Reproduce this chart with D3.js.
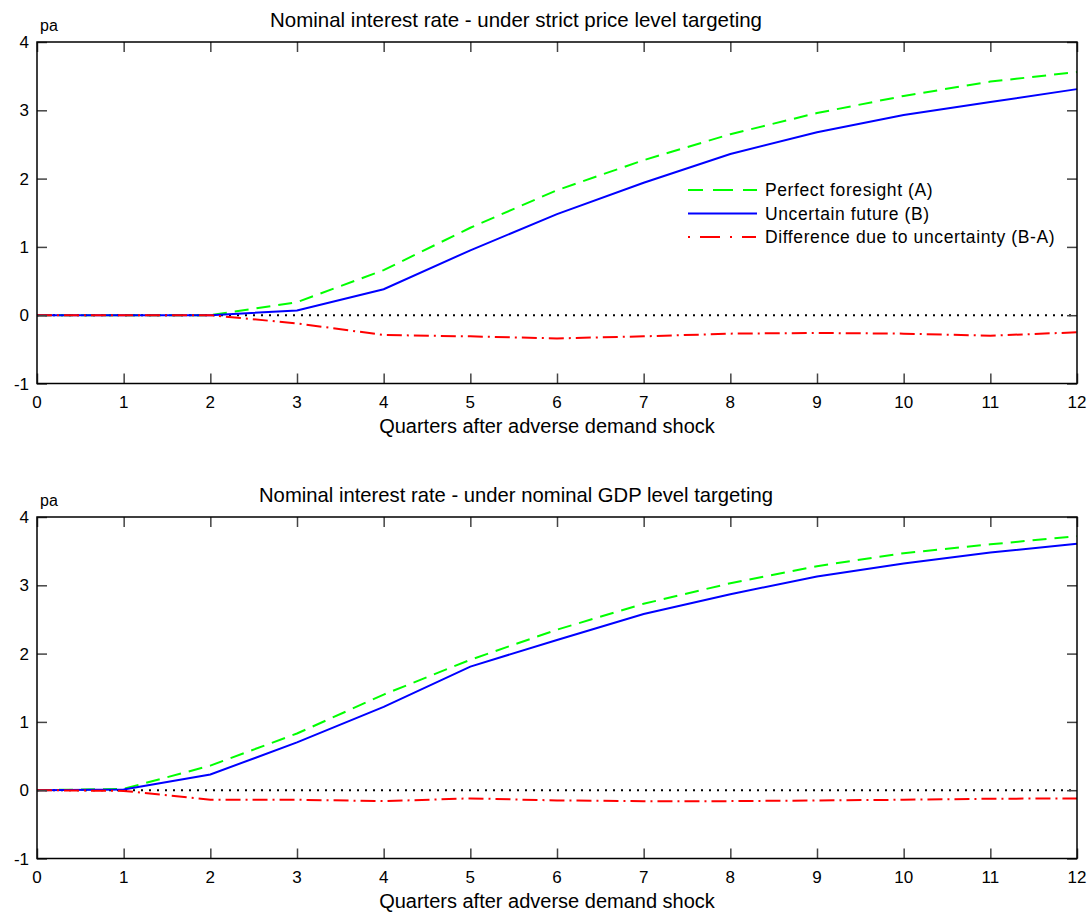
<!DOCTYPE html>
<html>
<head>
<meta charset="utf-8">
<script src="https://cdn.jsdelivr.net/npm/d3@7"></script>
<style>
  body { margin: 0; background: #fff; }
  text { font-family: "Liberation Sans", Arial, sans-serif; fill: #000; }
</style>
</head>
<body>
<svg id="chart" width="1092" height="918"></svg>
<script>
// quarters after shock
var quarters = [0, 1, 2, 3, 4, 5, 6, 7, 8, 9, 10, 11, 12];
var yTicks = [-1, 0, 1, 2, 3, 4];

// top panel: strict price level targeting
var pltPerfect   = [0, 0, 0, 0.19, 0.66, 1.28, 1.83, 2.27, 2.65, 2.96, 3.21, 3.42, 3.56];
var pltUncertain = [0, 0, 0, 0.07, 0.38, 0.95, 1.48, 1.94, 2.36, 2.68, 2.93, 3.12, 3.31];
var pltDiff      = [0, 0, 0, -0.12, -0.29, -0.31, -0.34, -0.31, -0.27, -0.26, -0.27, -0.30, -0.25];

// bottom panel: nominal GDP level targeting
var ngdpPerfect   = [0, 0.02, 0.36, 0.83, 1.40, 1.91, 2.35, 2.73, 3.03, 3.28, 3.47, 3.60, 3.72];
var ngdpUncertain = [0, 0.01, 0.23, 0.70, 1.22, 1.81, 2.20, 2.58, 2.87, 3.13, 3.32, 3.48, 3.61];
var ngdpDiff      = [0, -0.01, -0.14, -0.14, -0.16, -0.12, -0.15, -0.16, -0.16, -0.15, -0.14, -0.125, -0.12];

var legendLabels = ["Perfect foresight (A)", "Uncertain future (B)", "Difference due to uncertainty (B-A)"];

var seriesStyle = [
  { color: "#00ff00", dash: "14,8", legendDash: "15,10,20,10,15" },
  { color: "#0000ff", dash: null, legendDash: null },
  { color: "#ff0000", dash: "15,5,2,5", legendDash: "2,10,20,10,2,10,14,3,2" }
];

var svg = d3.select("#chart");

function drawPanel(top, title, titleWidth, series, showLegend) {
  var left = 37, right = 1077, bottom = top + 341.5;
  var x = d3.scaleLinear().domain([0, 12]).range([left, right]);
  var y = d3.scaleLinear().domain([-1, 4]).range([bottom, top]);
  var g = svg.append("g");

  //zero line, dotted
  g.append("line")
    .attr("x1", x(0)).attr("x2", x(12)).attr("y1", y(0)).attr("y2", y(0))
    .style("stroke", "#000").style("stroke-width", 2)
    .style("stroke-dasharray", "2,6");

  //series
  var line = d3.line().x(function(d, i) { return x(quarters[i]); }).y(function(d) { return y(d); });
  series.forEach(function(s, k) {
    g.append("path").datum(s).attr("d", line)
      .style("fill", "none")
      .style("stroke", seriesStyle[k].color)
      .style("stroke-width", 2)
      .style("stroke-dasharray", seriesStyle[k].dash);
  });

  //inward ticks on all sides
  var tl = 10;
  g.append("g").attr("transform", "translate(0," + bottom + ")")
    .call(d3.axisBottom(x).tickValues(quarters).tickSize(-tl).tickFormat(""));
  g.append("g").attr("transform", "translate(0," + top + ")")
    .call(d3.axisTop(x).tickValues(quarters).tickSize(-tl).tickFormat(""));
  g.append("g").attr("transform", "translate(" + left + ",0)")
    .call(d3.axisLeft(y).tickValues(yTicks).tickSize(-tl).tickFormat(""));
  g.append("g").attr("transform", "translate(" + right + ",0)")
    .call(d3.axisRight(y).tickValues(yTicks).tickSize(-tl).tickFormat(""));
  g.selectAll(".tick line").style("stroke", "#444").style("stroke-width", 1.5);
  g.selectAll(".domain").remove();

  //frame
  g.append("rect").attr("x", left).attr("y", top)
    .attr("width", right - left).attr("height", bottom - top)
    .style("fill", "none").style("stroke", "#000").style("stroke-width", 1.5);

  //tick labels
  g.selectAll("text.xl").data(quarters).enter().append("text")
    .attr("class", "xl")
    .attr("x", function(d) { return x(d); }).attr("y", bottom + 24)
    .attr("text-anchor", "middle").style("font-size", "17px")
    .text(function(d) { return d; });
  g.selectAll("text.yl").data(yTicks).enter().append("text")
    .attr("class", "yl")
    .attr("x", 29).attr("y", function(d) { return y(d) + 6; })
    .attr("text-anchor", "end").style("font-size", "17px")
    .text(function(d) { return d; });

  //titles
  g.append("text").attr("x", 516).attr("y", top - 15)
    .attr("text-anchor", "middle").style("font-size", "21px")
    .attr("textLength", titleWidth).attr("lengthAdjust", "spacingAndGlyphs")
    .text(title);
  g.append("text").attr("x", 40).attr("y", top - 11)
    .style("font-size", "16px").text("pa");
  g.append("text").attr("x", 547).attr("y", bottom + 49)
    .attr("text-anchor", "middle").style("font-size", "20px")
    .text("Quarters after adverse demand shock");

  if (showLegend) {
    var lg = g.append("g");
    legendLabels.forEach(function(lab, k) {
      var ly = 190 + k * 23.5;
      lg.append("line").attr("x1", 688).attr("x2", 757).attr("y1", ly).attr("y2", ly)
        .style("stroke", seriesStyle[k].color).style("stroke-width", 2)
        .style("stroke-dasharray", seriesStyle[k].legendDash);
      lg.append("text").attr("x", 765).attr("y", ly + 6)
        .style("font-size", "17.5px").style("letter-spacing", "0.6px").text(lab);
    });
  }
}

drawPanel(42, "Nominal interest rate - under strict price level targeting", 492,
  [pltPerfect, pltUncertain, pltDiff], true);
drawPanel(517, "Nominal interest rate - under nominal GDP level targeting", 514,
  [ngdpPerfect, ngdpUncertain, ngdpDiff], false);
</script>
</body>
</html>
